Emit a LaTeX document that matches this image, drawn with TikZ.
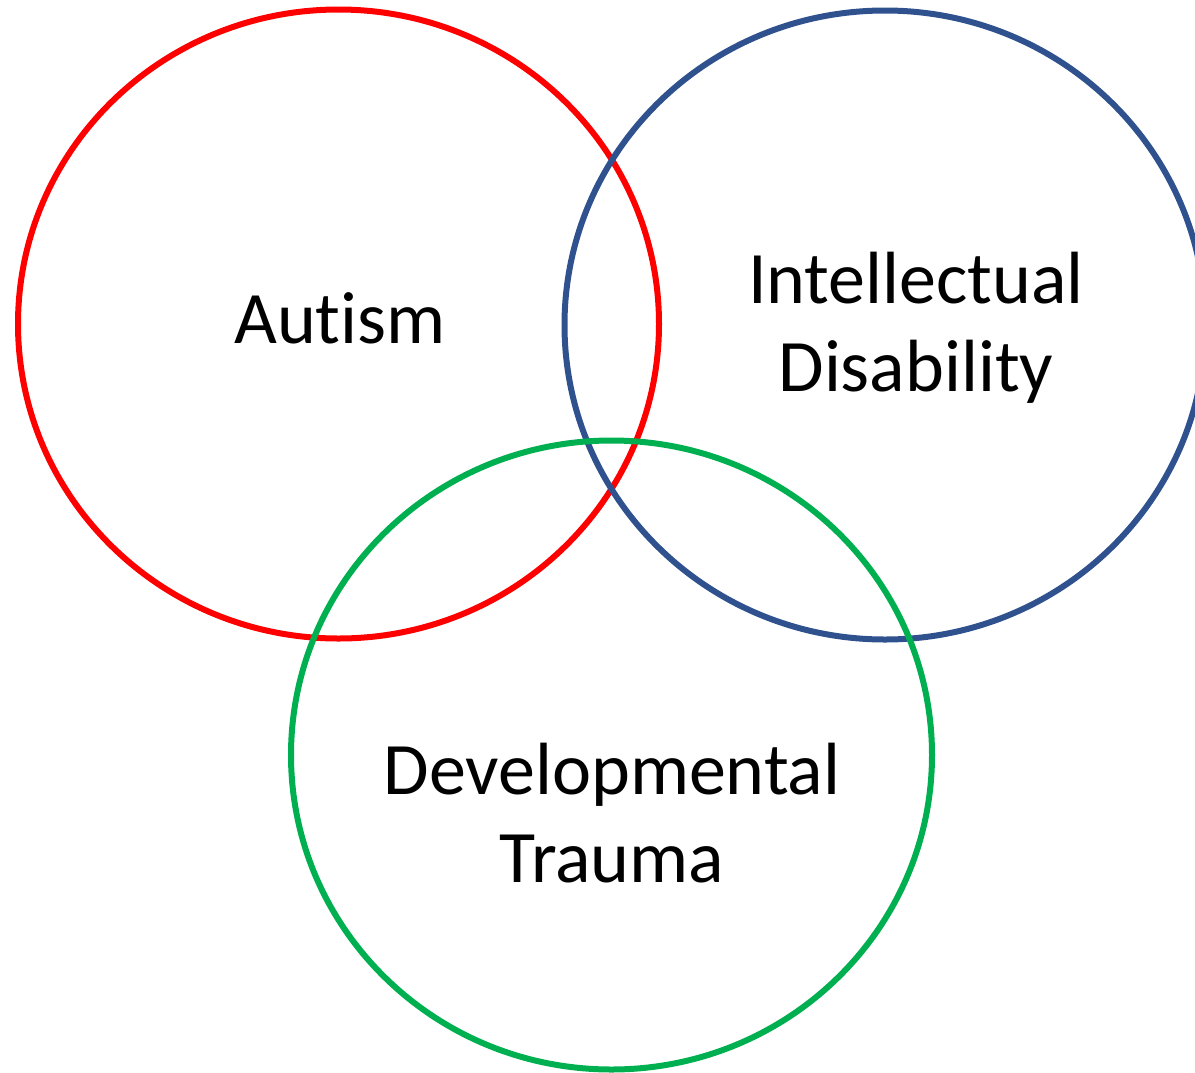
\documentclass[tikz,border=0pt]{standalone}
\usepackage{fontspec}
\setmainfont[Ligatures=NoCommon]{Carlito}
\usetikzlibrary{shapes.geometric}
\definecolor{vred}{HTML}{FF0000}
\definecolor{vblue}{HTML}{2F528F}
\definecolor{vgreen}{HTML}{00B050}
\tikzset{
  venn/.style={ellipse, draw, line width=6pt, inner sep=0pt, minimum width=641pt, minimum height=629pt},
  lbl/.style={font=\fontsize{74}{88}\selectfont, align=center, text=black}
}
\begin{document}
\begin{tikzpicture}[x=1pt,y=-1pt]
\useasboundingbox (0,0) rectangle (1195,1072);
\node[venn, draw=vred] (autism) at (338.5,324) {};
\node[venn, draw=vblue] (intel) at (885,325) {};
\node[venn, draw=vgreen] (dev) at (611.5,755) {};
\node[lbl] (tA) at (340,318) {Autism};
\node[lbl] (tI) at (916,328) {Intellectual\\Disability};
\node[lbl] (tD) at (612,813) {Developmental\\Trauma};
\end{tikzpicture}
\end{document}
